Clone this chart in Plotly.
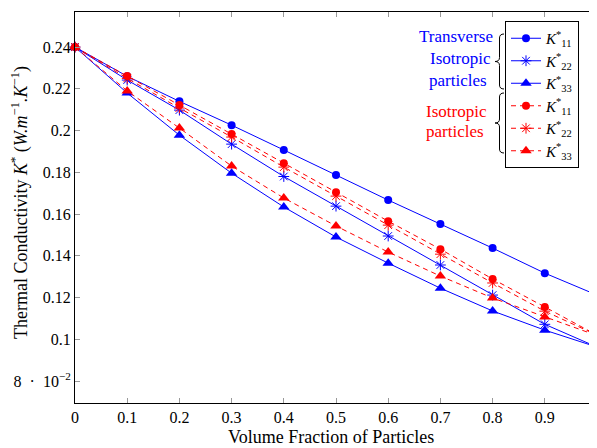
import plotly.graph_objects as go

x_vals = [0, 0.1, 0.2, 0.3, 0.4, 0.5, 0.6, 0.7, 0.8, 0.9, 1.0]

ti_k11 = [0.240, 0.226, 0.214, 0.2026, 0.1907, 0.1787, 0.1667, 0.1552, 0.1437, 0.1317, 0.1212]
ti_k22 = [0.240, 0.2242, 0.2098, 0.1935, 0.1780, 0.1638, 0.1495, 0.1356, 0.1212, 0.1072, 0.0963]
ti_k33 = [0.240, 0.2180, 0.1978, 0.1796, 0.1634, 0.1490, 0.1365, 0.1245, 0.1136, 0.1044, 0.0963]

iso_k11 = [0.240, 0.2262, 0.2122, 0.1983, 0.1844, 0.1705, 0.1566, 0.1432, 0.1289, 0.1155, 0.1020]
iso_k22 = [0.240, 0.2250, 0.2108, 0.1969, 0.1825, 0.1686, 0.1547, 0.1408, 0.1270, 0.1135, 0.1020]
iso_k33 = [0.240, 0.2190, 0.2012, 0.1830, 0.1677, 0.1543, 0.1418, 0.1303, 0.1198, 0.1107, 0.1018]

x_ticks = [0, 0.1, 0.2, 0.3, 0.4, 0.5, 0.6, 0.7, 0.8, 0.9, 1.0]
x_ticktext = ["0", "0.1", "0.2", "0.3", "0.4", "0.5", "0.6", "0.7", "0.8", "0.9", "1"]
y_ticks = [0.08, 0.10, 0.12, 0.14, 0.16, 0.18, 0.20, 0.22, 0.24]
y_ticktext = ["8\u2002·\u200210<sup>−2</sup>", "0.1", "0.12", "0.14", "0.16", "0.18", "0.2", "0.22", "0.24"]

BLUE = "#0000ff"
RED = "#ff0000"
FONT = "Liberation Serif"

W, H = 597, 448
OFF = 8  # page body margin offset
# plot area in screen pixels
SL, SR, ST, SB = 75, 597, 12, 403
ML, MR, MT, MB = SL - OFF, W - (SR - OFF), ST - OFF, H - (SB - OFF)
PW = SR - SL
PH = SB - ST

fig = go.Figure()

def add(y, name, color, symbol, dash, size):
    line_w = 1 if symbol == "asterisk-open" else 0
    fig.add_trace(go.Scatter(
        x=x_vals, y=y, name=name, mode="lines+markers",
        line=dict(color=color, width=1, dash=dash),
        marker=dict(symbol=symbol, size=size, color=color,
                    line=dict(color=color, width=line_w)),
        cliponaxis=False,
    ))

lab = lambda s: "<i>K</i><sup>*</sup><sub>%s</sub>" % s
DASH = "5px,4px"
add(ti_k11, lab("11"), BLUE, "circle", "solid", 8)
add(ti_k22, lab("22"), BLUE, "asterisk-open", "solid", 9)
add(ti_k33, lab("33"), BLUE, "triangle-up", "solid", 10)
add(iso_k11, lab("11"), RED, "circle", DASH, 8)
add(iso_k22, lab("22"), RED, "asterisk-open", DASH, 9)
add(iso_k33, lab("33"), RED, "triangle-up", DASH, 10)

def px(xp):
    return (xp - SL) / PW

def py(yp):
    return (SB - yp) / PH

def brace(xr, xt, y0, y1):
    ym = (y0 + y1) / 2
    xm = (xr + xt) / 2
    pts = [
        ("M", [(xr, y0)]),
        ("Q", [(xm, y0), (xm, y0 + 4)]),
        ("L", [(xm, ym - 4)]),
        ("Q", [(xm, ym), (xt, ym)]),
        ("Q", [(xm, ym), (xm, ym + 4)]),
        ("L", [(xm, y1 - 4)]),
        ("Q", [(xm, y1), (xr, y1)]),
    ]
    s = ""
    for cmd, ps in pts:
        s += cmd + " " + " ".join("%.5f,%.5f" % (px(a), py(b)) for a, b in ps) + " "
    fig.add_shape(type="path", path=s.strip(), xref="paper", yref="paper",
                  line=dict(color="black", width=1))

brace(504, 495, 34, 89)
brace(504, 495, 93, 153)

def label(text, xc, yc, color, size=17, angle=0):
    fig.add_annotation(text=text, x=px(xc), y=py(yc), xref="paper", yref="paper",
                       showarrow=False, xanchor="center", yanchor="middle",
                       textangle=angle,
                       font=dict(family=FONT, size=size, color=color))

label("Transverse", 456, 37, BLUE)
label("Isotropic", 460, 59, BLUE)
label("particles", 458, 80, BLUE)
label("Isotropic", 456, 111, RED)
label("particles", 455, 131, RED)

label("Volume Fraction of Particles", 331, 437, "black", size=18)
label("Thermal Conductivity <i>K</i><sup>*</sup> (<i>W.m</i><sup>−1</sup><i>.K</i><sup>−1</sup>)",
      20, 203, "black", size=18, angle=-90)

axis_common = dict(
    showline=True, linecolor="black", linewidth=1, mirror="ticks",
    ticks="inside", ticklen=5, tickcolor="#999999", tickwidth=1,
    showgrid=False, zeroline=False, automargin=False,
    tickfont=dict(family=FONT, size=16, color="black"),
)

fig.update_layout(
    width=W, height=H,
    margin=dict(l=ML, r=MR, t=MT, b=MB, autoexpand=False),
    paper_bgcolor="white", plot_bgcolor="white",
    font=dict(family=FONT, size=15, color="black"),
    xaxis=dict(range=[0, 1], tickvals=x_ticks, ticktext=x_ticktext, **axis_common),
    yaxis=dict(range=[0.0695, 0.2568], tickvals=y_ticks, ticktext=y_ticktext, **axis_common),
    legend=dict(x=px(505), y=py(21), xanchor="left", yanchor="top",
                bordercolor="black", borderwidth=1, bgcolor="white",
                font=dict(family=FONT, size=15), tracegroupgap=0,
                itemwidth=30),
    showlegend=True,
)

fig.write_html("out.html")
